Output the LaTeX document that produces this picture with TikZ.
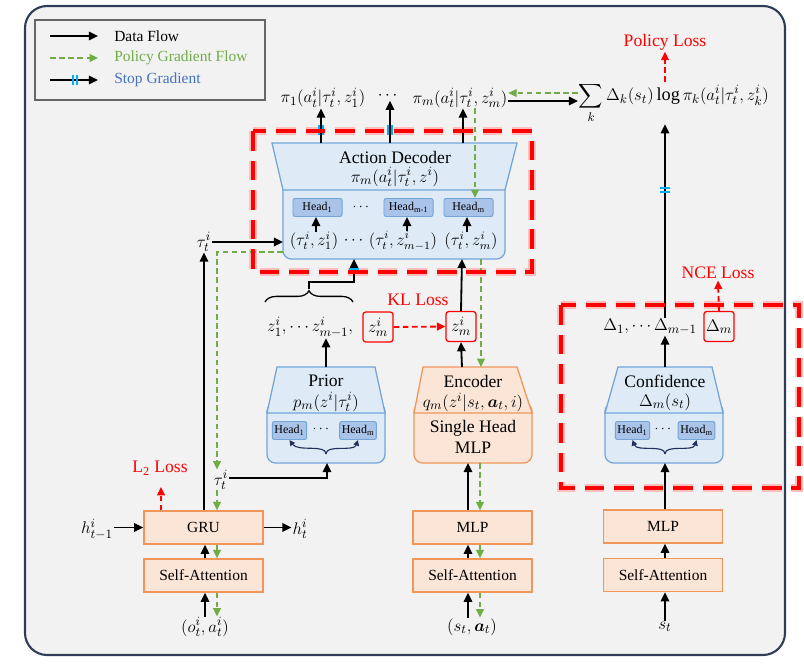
\documentclass[tikz,border=0pt]{standalone}
\usepackage{amsmath}
\usepackage{fontspec}
\setmainfont{Liberation Serif}
\usetikzlibrary{arrows.meta,positioning,calc,decorations.pathreplacing}
\definecolor{frameblue}{RGB}{46,60,88}
\definecolor{panelgray}{RGB}{242,242,242}
\definecolor{pgreen}{RGB}{112,173,71}
\definecolor{sgblue}{RGB}{68,114,196}
\definecolor{sgcyan}{RGB}{0,176,240}
\definecolor{boxblue}{RGB}{222,235,247}
\definecolor{lineblue}{RGB}{115,165,215}
\definecolor{headblue}{RGB}{170,195,232}
\definecolor{boxorange}{RGB}{251,229,214}
\definecolor{lineorange}{RGB}{240,150,90}
\definecolor{lossred}{RGB}{255,0,0}
\definecolor{bracenavy}{RGB}{35,50,90}
\newcommand{\mf}{\fontsize{13}{15}\selectfont}
\newcommand{\smf}{\fontsize{12}{14}\selectfont}
\newcommand{\tf}{\fontsize{11}{13}\selectfont}
\newcommand{\hf}{\fontsize{12.5}{14}\selectfont}
\tikzset{
  flow/.style={-{Triangle[length=6.5pt,width=6pt]},line width=1.3pt,black},
  pgflow/.style={-{Triangle[length=6pt,width=5.5pt]},line width=1.1pt,pgreen,dash pattern=on 4pt off 2.5pt},
  lossflow/.style={-{Triangle[length=6pt,width=5.5pt]},line width=1.3pt,lossred,dash pattern=on 4pt off 2.5pt},
  blueshape/.style={draw=lineblue,fill=boxblue,line width=0.9pt},
  orgshape/.style={draw=lineorange,fill=boxorange,line width=0.9pt},
  opbox/.style={orgshape,minimum width=2.975cm,minimum height=0.825cm,inner sep=0pt,font=\tf},
  headbox/.style={draw=lineblue,fill=headblue,line width=0.7pt,rounded corners=1.5pt,inner sep=1.5pt,
    minimum height=0.45cm,font=\fontsize{8.5}{10}\selectfont},
  zbox/.style={draw=lossred,line width=0.9pt,rounded corners=2pt,inner sep=1.5pt,font=\mf,
    minimum width=0.75cm,minimum height=0.75cm},
  mlabel/.style={inner sep=0.5pt,font=\mf},
  slabel/.style={inner sep=0pt,font=\smf},
  title/.style={inner sep=0pt,font=\hf},
  losstext/.style={inner sep=1pt,font=\hf,text=lossred},
  legtext/.style={inner sep=0pt,font=\tf},
  glowbox/.style={line width=6pt,red!25,dash pattern=on 14pt off 7pt},
  redbox/.style={line width=3pt,lossred,dash pattern=on 14pt off 7pt},
  curv/.style={-{Triangle[length=4pt,width=4pt]},line width=0.8pt,bracenavy},
  stopmark/.pic={\draw[sgcyan,line width=0.8pt] (-2,-5) -- (-2,5) (2,-5) -- (2,5);}
}

\begin{document}
\begin{tikzpicture}[x=0.025cm,y=-0.025cm]
  \useasboundingbox (0,0) rectangle (804,664);
  % panel
  \draw[frameblue,line width=1.5pt,fill=panelgray,rounded corners=0.55cm] (25,6) rectangle (785,655);

  % legend
  \node[draw=black!60,line width=0.8pt,fill=panelgray,minimum width=5.75cm,minimum height=2cm] (legend) at (150,60) {};
  \node[legtext,anchor=west] (lgdata) at (114,36) {Data Flow};
  \node[legtext,anchor=west,text=pgreen] (lgpg) at (114,58) {Policy Gradient Flow};
  \node[legtext,anchor=west,text=sgblue] (lgsg) at (114,80) {Stop Gradient};
  \coordinate (lga) at (50,36);  \coordinate (lgb) at (98,36);
  \coordinate (lgc) at (50,58);  \coordinate (lgd) at (98,58);
  \coordinate (lge) at (50,80);  \coordinate (lgf) at (98,80);
  \draw[flow] (lga) -- (lgb);
  \draw[pgflow] (lgc) -- (lgd);
  \draw[flow] (lge) -- (lgf);
  \pic at (75,80) {stopmark};

  % red dashed regions
  \draw[glowbox] (253,131) rectangle (532,272);
  \draw[glowbox] (561,305) rectangle (799,488);

  % action decoder
  \draw[blueshape,rounded corners=6pt] (283,180) rectangle (505,259);
  \draw[blueshape] (272,143) -- (517,143) -- (505,190) -- (283,190) -- cycle;
  \coordinate (dectop) at (400,143);
  \coordinate (decbot) at (400,259);
  \node[title] (dectitle) at (395,157) {Action Decoder};
  \node[mlabel] (decpi) at (395,177) {$\pi_m(a_t^i|\tau_t^i,z^i)$};
  \node[headbox,minimum width=1.225cm] (hd1) at (317.5,207.5) {Head\textsubscript{1}};
  \node[inner sep=0pt] (hddots) at (362,207) {$\cdots$};
  \node[headbox,minimum width=1.225cm] (hd2) at (408.5,207.5) {Head\textsubscript{m-1}};
  \node[headbox,minimum width=1.225cm] (hd3) at (468.5,207.5) {Head\textsubscript{m}};
  \node[slabel] (in1) at (314,241) {$(\tau_t^i,z_1^i)$};
  \node[slabel] (indots) at (355,241) {$\cdots$};
  \node[slabel] (in2) at (403,241) {$(\tau_t^i,z_{m-1}^i)$};
  \node[slabel] (in3) at (471,241) {$(\tau_t^i,z_m^i)$};
  \draw[flow] (316,0 |- in1.north) -- (316,0 |- hd1.south);
  \draw[flow] (407,0 |- in2.north) -- (407,0 |- hd2.south);
  \draw[flow] (467,0 |- in3.north) -- (467,0 |- hd3.south);

  % policy outputs
  \node[mlabel] (pi1) at (323,98) {$\pi_1(a_t^i|\tau_t^i,z_1^i)$};
  \node[mlabel] (pidots) at (389,96) {$\cdots$};
  \node[mlabel] (pim) at (460,98) {$\pi_m(a_t^i|\tau_t^i,z_m^i)$};
  \draw[flow] (321,0 |- dectop) -- (321,0 |- pi1.south);
  \draw[flow] (390,0 |- dectop) -- (390,0 |- pidots.south);
  \draw[flow] (463,0 |- dectop) -- (463,0 |- pim.south);
  \pic at (321,130) {stopmark};
  \pic at (390,130) {stopmark};

  % policy loss
  \node[mlabel,anchor=west] (sum) at (578,103) {$\displaystyle\sum_k \Delta_k(s_t)\log\pi_k(a_t^i|\tau_t^i,z_k^i)$};
  \node[losstext] (polloss) at (665,42) {Policy Loss};
  \draw[lossflow] (665,82) -- (polloss.south);
  \draw[flow] (pim.east |- 0,101) -- (sum.west |- 0,101);
  \draw[pgflow] (sum.west |- 0,93) -- (pim.east |- 0,93);
  \draw[pgflow] (475,0 |- pim.south) -- (475,0 |- hd3.north);

  % trajectory encoding
  \node[opbox] (gru) at (203.5,527.5) {GRU};
  \node[opbox] (satt1) at (203.5,575.5) {Self-Attention};
  \node[mlabel] (obs) at (205,627) {$(o_t^i,a_t^i)$};
  \node[mlabel] (hprev) at (97,529) {$h_{t-1}^i$};
  \node[mlabel] (hnext) at (300,529) {$h_t^i$};
  \node[mlabel] (tau1) at (204,242) {$\tau_t^i$};
  \node[mlabel] (tau2) at (221,480) {$\tau_t^i$};
  \node[losstext] (l2loss) at (160,468) {L\textsubscript{2} Loss};
  \draw[flow] (hprev.east |- gru.west) -- (gru.west);
  \draw[flow] (gru.east) -- (hnext.west |- gru.east);
  \draw[lossflow] (161,0 |- gru.north) -- (161,487);
  \draw[flow] (205,0 |- obs.north) -- (205,0 |- satt1.south);
  \draw[pgflow] (217,0 |- satt1.south) -- (217,0 |- obs.north);
  \draw[flow] (205,0 |- satt1.north) -- (205,0 |- gru.south);
  \draw[pgflow] (217,0 |- gru.south) -- (217,0 |- satt1.north);
  \draw[flow] (204,0 |- gru.north) -- (tau1.south);
  \draw[pgflow] (217,0 |- tau2.south) -- (217,0 |- gru.north);
  \draw[flow] (tau1.east) -- (283,242);
  \draw[pgflow] (283,252) -- (217,252) -- (217,0 |- tau2.north);

  % prior
  \draw[blueshape,rounded corners=6pt] (267,403) rectangle (385,463);
  \draw[blueshape] (277,367) -- (375,367) -- (385,413) -- (267,413) -- cycle;
  \node[title] (priortitle) at (326,381) {Prior};
  \node[mlabel] (priorp) at (326,402) {$p_m(z^i|\tau_t^i)$};
  \node[headbox] (hp1) at (289.5,430.5) {Head\textsubscript{1}};
  \node[inner sep=0pt] (hpdots) at (322,429) {$\cdots$};
  \node[headbox] (hpm) at (358,430.5) {Head\textsubscript{m}};
  \coordinate (priortop) at (326,367);
  \coordinate (priorbot) at (327,463);
  \draw[curv] (326,454) .. controls (326,444) and (298,452) .. (hp1.south);
  \draw[curv] (326,454) .. controls (326,444) and (354,452) .. (hpm.south);
  \draw[flow] (tau2.east |- 0,478) -- (327,478) -- (priorbot);

  % latent row
  \node[mlabel] (zrow) at (310,327) {$z_1^i,\cdots z_{m-1}^i,$};
  \node[zbox] (zm1) at (378,327) {$z_m^i$};
  \node[zbox] (zm2) at (461,326.5) {$z_m^i$};
  \node[losstext] (klloss) at (418,300) {KL Loss};
  \draw[lossflow] (zm1.east) -- (zm2.west);
  \draw[flow] (priortop) -- (326,0 |- zrow.south);
  \draw[decorate,decoration={brace,amplitude=8pt},line width=0.9pt] (265,302) -- (353,302);
  \coordinate (bracetip) at (309,289);
  \draw[flow] (bracetip) -- (309,282) -- (354,282) -- (354,0 |- decbot);
  \pic[rotate=90] at (354,271) {stopmark};

  % encoder
  \draw[orgshape,rounded corners=6pt] (414,403) rectangle (532,463);
  \draw[orgshape] (423,367) -- (517,367) -- (532,413) -- (414,413) -- cycle;
  \coordinate (enctop) at (462,367);
  \coordinate (encbot) at (468,463);
  \node[title] (enctitle) at (473,381) {Encoder};
  \node[mlabel] (encq) at (473,402) {$q_m(z^i|s_t,\boldsymbol{a}_t,i)$};
  \node[title] (enchead) at (473,428) {Single Head};
  \node[title] (encmlp) at (473,448) {MLP};
  \node[opbox] (mlp2) at (472.5,527.5) {MLP};
  \node[opbox] (satt2) at (472.5,575.5) {Self-Attention};
  \node[mlabel] (sa) at (472,627) {$(s_t,\boldsymbol{a}_t)$};
  \draw[flow] (enctop) -- (zm2.south);
  \draw[flow] (zm2.north) -- (462,0 |- decbot);
  \draw[pgflow] (481,0 |- decbot) -- (481,0 |- enctop);
  \draw[flow] (468,0 |- mlp2.north) -- (encbot);
  \draw[pgflow] (480,0 |- encbot) -- (480,0 |- mlp2.north);
  \draw[flow] (468,0 |- satt2.north) -- (468,0 |- mlp2.south);
  \draw[pgflow] (480,0 |- mlp2.south) -- (480,0 |- satt2.north);
  \draw[flow] (468,0 |- sa.north) -- (468,0 |- satt2.south);
  \draw[pgflow] (480,0 |- satt2.south) -- (480,0 |- sa.north);

  % confidence
  \draw[blueshape,rounded corners=6pt] (605,403) rectangle (723,463);
  \draw[blueshape] (618,367) -- (712,367) -- (723,413) -- (605,413) -- cycle;
  \coordinate (conftop) at (665,367);
  \coordinate (confbot) at (665,463);
  \node[title] (conftitle) at (665,381) {Confidence};
  \node[mlabel] (confd) at (665,402) {$\Delta_m(s_t)$};
  \node[headbox] (hc1) at (632.5,430.5) {Head\textsubscript{1}};
  \node[inner sep=0pt] (hcdots) at (664,429) {$\cdots$};
  \node[headbox] (hcm) at (696.5,430.5) {Head\textsubscript{m}};
  \draw[curv] (665,454) .. controls (665,444) and (637,452) .. (hc1.south);
  \draw[curv] (665,454) .. controls (665,444) and (693,452) .. (hcm.south);
  \node[opbox] (mlp3) at (663,526.5) {MLP};
  \node[opbox] (satt3) at (663,575) {Self-Attention};
  \node[mlabel] (st) at (665,627) {$s_t$};
  \draw[flow] (st.north) -- (665,0 |- satt3.south);
  \draw[flow] (665,0 |- satt3.north) -- (665,0 |- mlp3.south);
  \draw[flow] (665,0 |- mlp3.north) -- (confbot);

  % confidence outputs
  \node[mlabel] (drow) at (650,327) {$\Delta_1,\cdots\Delta_{m-1}$};
  \node[zbox] (dm) at (719,326.5) {$\Delta_m$};
  \node[losstext] (nceloss) at (718,273) {NCE Loss};
  \draw[flow] (conftop) -- (665,0 |- drow.south);
  \draw[flow] (665,0 |- drow.north) -- (665,0 |- sum.south);
  \pic[rotate=90] at (665,190) {stopmark};
  \draw[lossflow] (dm.north) -- (nceloss.south);

  % red dashed regions, front
  \draw[redbox] (253,131) rectangle (532,272);
  \draw[redbox] (561,305) rectangle (799,488);
\end{tikzpicture}
\end{document}
